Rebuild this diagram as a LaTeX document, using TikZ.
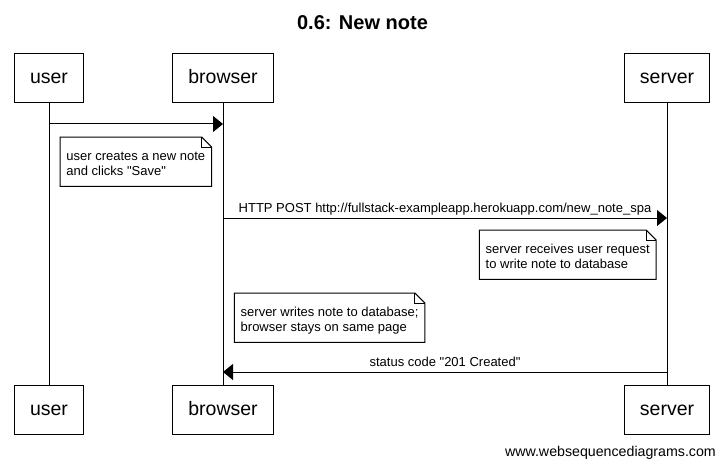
\documentclass[tikz,border=0pt]{standalone}
\usepackage{fontspec}
\setmainfont{Liberation Sans}
\usetikzlibrary{arrows.meta}

% outline of a note with a folded top-right corner
\newcommand{\foldednote}[1]{%
  \draw[noteline] (#1.south west) -- (#1.north west) -- ([xshift=-10pt]#1.north east)
    -- ([yshift=-10pt]#1.north east) -- (#1.south east) -- cycle;
  \draw[foldline] ([xshift=-10pt]#1.north east) -- ([xshift=-10pt,yshift=-10pt]#1.north east)
    -- ([yshift=-10pt]#1.north east);
}
% struts fixing the first baseline and the bottom margin of a note
\newcommand{\notetop}{\rule{0pt}{23pt}}
\newcommand{\notebottom}{\rule[-11pt]{0pt}{0pt}}

\begin{document}
\begin{tikzpicture}[x=1pt,y=-1pt,
  actor/.style={draw, line width=1pt, fill=white, minimum height=49pt,
    inner xsep=15.5pt, inner ysep=0pt, text height=14pt, text depth=3pt,
    font=\fontsize{19.5}{23}\selectfont},
  lifeline/.style={line width=1pt},
  msg/.style={line width=1pt, -{Triangle[length=10pt,width=16pt]}},
  msglabel/.style={anchor=base, inner sep=0pt, yshift=5.3pt,
    font=\fontsize{13}{15}\selectfont},
  notebox/.style={anchor=north west, fill=white, inner xsep=6.2pt, inner ysep=0pt,
    align=left, font=\fontsize{13}{15}\selectfont},
  noteline/.style={line width=1pt, line join=miter},
  foldline/.style={line width=0.8pt},
]
\useasboundingbox (0,0) rectangle (725,468);

% title
\node[anchor=base, inner sep=0pt, font=\bfseries\fontsize{20}{24}\selectfont]
  (title) at (362.5,29.3) {0.6: New note};

% participants, top and bottom
\node[actor] (userT)    at (49,78.5)   {user};
\node[actor] (browserT) at (223,78.5)  {browser};
\node[actor] (serverT)  at (667,78.5)  {server};
\node[actor] (userB)    at (49,409.5)  {user};
\node[actor] (browserB) at (223,409.5) {browser};
\node[actor] (serverB)  at (667,409.5) {server};

% lifelines
\draw[lifeline] (userT) -- (userB);
\draw[lifeline] (browserT) -- (browserB);
\draw[lifeline] (serverT) -- (serverB);

% message rows
\coordinate (row1) at (0,124);
\coordinate (row2) at (0,218);
\coordinate (row3) at (0,372);

\draw[msg] (userT |- row1) -- (browserT |- row1);

\node[notebox] (note1) at (60,137)
  {\notetop user creates a new note\\and clicks \textquotedbl Save\textquotedbl\notebottom};
\foldednote{note1}

\draw[msg] (browserT |- row2) -- node[midway, msglabel]
  {HTTP POST http://fullstack-exampleapp.herokuapp.com/new\_note\_spa} (serverT |- row2);

\node[notebox] (note2) at (479.3,230)
  {\notetop server receives user request\\to write note to database\notebottom};
\foldednote{note2}

\node[notebox] (note3) at (234.3,293)
  {\notetop server writes note to database;\\browser stays on same page\notebottom};
\foldednote{note3}

\draw[msg] (serverT |- row3) -- node[midway, msglabel]
  {status code \textquotedbl 201 Created\textquotedbl} (browserT |- row3);

% credit line
\node[anchor=base east, inner sep=0pt, font=\fontsize{14.2}{17}\selectfont]
  (credit) at (716,456.5) {www.websequencediagrams.com};
\end{tikzpicture}
\end{document}
